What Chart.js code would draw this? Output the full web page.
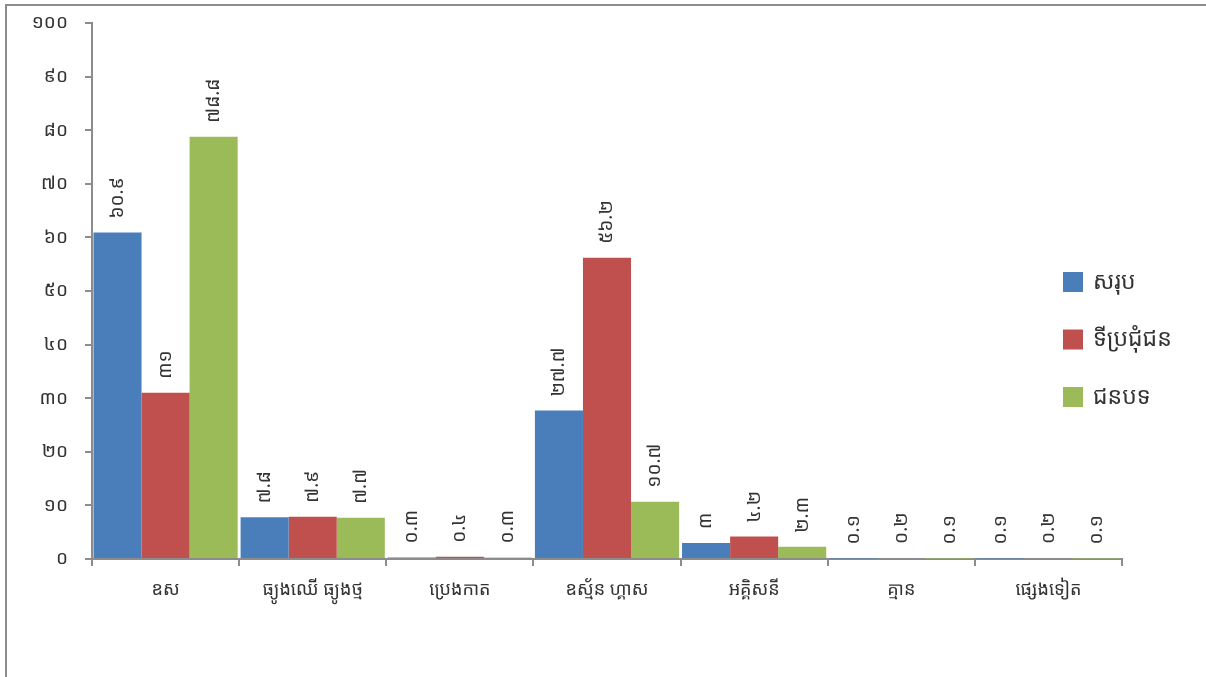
<!DOCTYPE html>
<html lang="km">
<head>
<meta charset="UTF-8" />
<title>ប្រភពថាមពលសម្រាប់ចម្អិនអាហារ</title>
<script src="https://cdn.jsdelivr.net/npm/chart.js@4.4.1/dist/chart.umd.min.js"></script>
<style>
  html, body { margin: 0; padding: 0; background: #fff; }
  #wrap { position: relative; width: 1206px; height: 677px; }
  #wrap:before { content: ""; position: absolute; left: 5px; top: 4px; right: 0; bottom: 0;
    border-left: 2px solid #8c8c8c; border-top: 2px solid #8c8c8c; pointer-events: none; }
</style>
</head>
<body>
<div id="wrap"><canvas id="fuelChart" width="1206" height="677"></canvas></div>
<script>
  const categories = ["ឧស", "ធ្យូងឈើ ធ្យូងថ្ម", "ប្រេងកាត", "ឧស្ម័ន ហ្គាស", "អគ្គិសនី", "គ្មាន", "ផ្សេងទៀត"];
  const seriesNames = ["សរុប", "ទីប្រជុំជន", "ជនបទ"];
  const totalValues = [60.9, 7.8, 0.3, 27.7, 3, 0.1, 0.1];
  const urbanValues = [31, 7.9, 0.4, 56.2, 4.2, 0.2, 0.2];
  const ruralValues = [78.8, 7.7, 0.3, 10.7, 2.3, 0.1, 0.1];
  const yTicks = [0, 10, 20, 30, 40, 50, 60, 70, 80, 90, 100];

  const colors = ["#4a7ebb", "#c0504d", "#9bbb59"];
  const khmerFont = "'Noto Sans Khmer', 'Khmer OS', 'Noto Sans', 'DejaVu Sans', sans-serif";
  const axisGrey = "#8c8c8c";
  const textColor = "#333";

  // western digits -> khmer digits
  const khDigits = "០១២៣៤៥៦៧៨៩";
  function toKhmer(n) {
    return String(n).replace(/[0-9]/g, d => khDigits[d]);
  }

  // value labels, rotated, above each bar
  const barLabels = {
    id: "barLabels",
    afterDatasetsDraw(chart) {
      const ctx = chart.ctx;
      ctx.save();
      ctx.font = "19px " + khmerFont;
      ctx.fillStyle = textColor;
      ctx.textAlign = "left";
      ctx.textBaseline = "middle";
      chart.data.datasets.forEach((ds, i) => {
        chart.getDatasetMeta(i).data.forEach((bar, j) => {
          ctx.save();
          ctx.translate(bar.x, bar.y - 14);
          ctx.rotate(-Math.PI / 2);
          ctx.fillText(toKhmer(ds.data[j]), 0, 0);
          ctx.restore();
        });
      });
      ctx.restore();
    }
  };

  // legend drawn inside the plot, right side
  const sideLegend = {
    id: "sideLegend",
    afterDraw(chart) {
      const ctx = chart.ctx;
      ctx.save();
      ctx.font = "23px " + khmerFont;
      ctx.textBaseline = "middle";
      chart.data.datasets.forEach((ds, i) => {
        const cy = 282 + i * 57.5;
        ctx.fillStyle = ds.backgroundColor;
        ctx.fillRect(1063, cy - 10, 20, 20);
        ctx.fillStyle = textColor;
        ctx.fillText(ds.label, 1093, cy);
      });
      ctx.restore();
    }
  };

  new Chart(document.getElementById("fuelChart").getContext("2d"), {
    type: "bar",
    data: {
      labels: categories,
      datasets: [
        { label: seriesNames[0], data: totalValues, backgroundColor: colors[0] },
        { label: seriesNames[1], data: urbanValues, backgroundColor: colors[1] },
        { label: seriesNames[2], data: ruralValues, backgroundColor: colors[2] }
      ]
    },
    options: {
      responsive: false,
      animation: false,
      devicePixelRatio: 1,
      layout: { padding: { top: 23, right: 84, left: 0, bottom: 0 } },
      datasets: { bar: { categoryPercentage: 0.98, barPercentage: 1, borderWidth: 0 } },
      scales: {
        x: {
          afterFit: s => { s.height = 118; s.paddingLeft = 0; s.paddingRight = 0; },
          border: { color: axisGrey, width: 2 },
          grid: { offset: true, drawOnChartArea: false, tickLength: 7, color: axisGrey, lineWidth: 2 },
          ticks: { color: textColor, padding: 13, font: { size: 18, family: khmerFont }, maxRotation: 0 }
        },
        y: {
          min: 0,
          max: 100,
          afterFit: s => { s.width = 92; s.paddingTop = 0; s.paddingBottom = 0; },
          afterBuildTicks: s => { s.ticks = yTicks.map(v => ({ value: v })); },
          border: { color: axisGrey, width: 2 },
          grid: { drawOnChartArea: false, tickLength: 7, color: axisGrey, lineWidth: 2 },
          ticks: { color: textColor, padding: 17, font: { size: 19, family: khmerFont }, callback: v => toKhmer(v) }
        }
      },
      plugins: {
        legend: { display: false },
        tooltip: { enabled: false }
      }
    },
    plugins: [barLabels, sideLegend]
  });
</script>
</body>
</html>
